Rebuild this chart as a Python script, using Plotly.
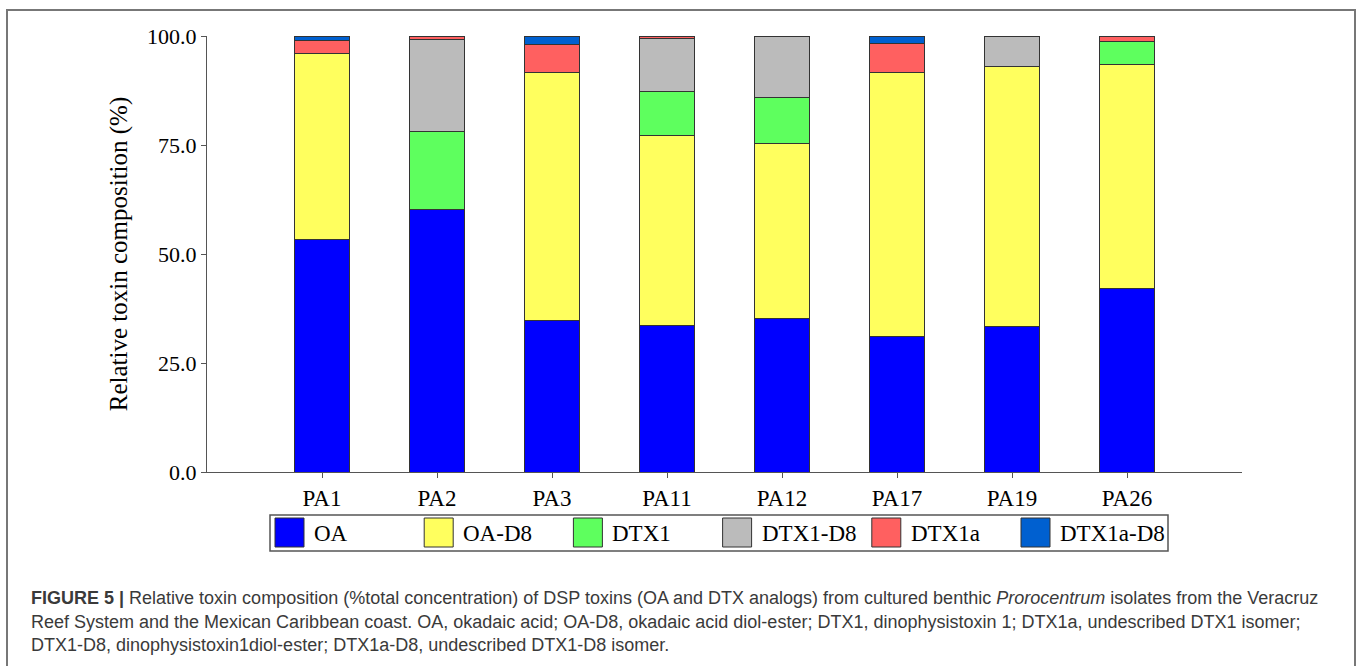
import plotly.graph_objects as go

categories = ["PA1", "PA2", "PA3", "PA11", "PA12", "PA17", "PA19", "PA26"]
series_names = ["OA", "OA-D8", "DTX1", "DTX1-D8", "DTX1a", "DTX1a-D8"]
oa = [53.3, 60.3, 34.7, 33.5, 35.1, 31.1, 33.3, 42.1]
oa_d8 = [42.6, 0.0, 57.0, 43.7, 40.3, 60.5, 59.8, 51.3]
dtx1 = [0.0, 17.8, 0.0, 10.1, 10.6, 0.0, 0.0, 5.3]
dtx1_d8 = [0.0, 21.0, 0.0, 12.2, 14.0, 0.0, 6.9, 0.0]
dtx1a = [3.0, 0.9, 6.3, 0.5, 0.0, 6.7, 0.0, 1.3]
dtx1a_d8 = [1.1, 0.0, 2.0, 0.0, 0.0, 1.7, 0.0, 0.0]
series_values = [oa, oa_d8, dtx1, dtx1_d8, dtx1a, dtx1a_d8]
colors = ["#0000FF", "#FFFF5E", "#5EFF5E", "#BBBBBB", "#FF6060", "#0060D0"]
y_ticks = [0, 25, 50, 75, 100]

W, H = 1361, 666
L, R = 207, 1242
T, B = 36, 472


def px(x):
    return (x - L) / (R - L)


def py(y):
    return (B - y) / (B - T)


fig = go.Figure()
for name, vals, col in zip(series_names, series_values, colors):
    fig.add_trace(go.Bar(
        x=categories, y=vals, name=name,
        marker=dict(color=col, line=dict(color="#333333", width=1)),
        width=0.48, showlegend=False,
    ))

serif = "Liberation Serif, Times New Roman, serif"
sans = "Liberation Sans, Arial, sans-serif"

fig.update_layout(
    width=W, height=H,
    margin=dict(l=L, r=W - R, t=T, b=H - B, pad=0),
    barmode="stack",
    paper_bgcolor="white", plot_bgcolor="white",
    font=dict(family=serif, color="black"),
    xaxis=dict(
        range=[-1, len(categories)], showline=True, linecolor="#555555", linewidth=1,
        ticks="outside", ticklen=5, tickcolor="#555555",
        tickfont=dict(family=serif, size=23, color="black"),
        showgrid=False, zeroline=False, fixedrange=True,
    ),
    yaxis=dict(
        range=[0, 100], tickvals=y_ticks, tickformat=".1f",
        showline=True, linecolor="#555555", linewidth=1,
        ticks="outside", ticklen=5, tickcolor="#555555",
        tickfont=dict(family=serif, size=22, color="black"),
        title=dict(text="Relative toxin composition (%)", font=dict(family=serif, size=25, color="black"), standoff=12),
        showgrid=False, zeroline=False,
    ),
)

shapes = []
annotations = []
# outer frame
shapes.append(dict(type="rect", xref="paper", yref="paper",
                   x0=px(7), x1=px(1355), y0=py(10), y1=py(700),
                   line=dict(color="#777777", width=2), fillcolor="rgba(0,0,0,0)", layer="below"))
# legend box
shapes.append(dict(type="rect", xref="paper", yref="paper",
                   x0=px(270), x1=px(1168), y0=py(515), y1=py(551),
                   line=dict(color="#555555", width=1.5), fillcolor="white"))
for i, (name, col) in enumerate(zip(series_names, colors)):
    sx = 275 + i * 149.2
    shapes.append(dict(type="rect", xref="paper", yref="paper",
                       x0=px(sx), x1=px(sx + 29), y0=py(518), y1=py(547),
                       line=dict(color="#333333", width=1), fillcolor=col))
    annotations.append(dict(xref="paper", yref="paper", x=px(sx + 37), y=py(533),
                            xanchor="left", yanchor="middle", showarrow=False,
                            text=name, font=dict(family=serif, size=23, color="black")))

caption = [
    "<b>FIGURE 5 |</b> Relative toxin composition (%total concentration) of DSP toxins (OA and DTX analogs) from cultured benthic <i>Prorocentrum</i> isolates from the Veracruz",
    "Reef System and the Mexican Caribbean coast. OA, okadaic acid; OA-D8, okadaic acid diol-ester; DTX1, dinophysistoxin 1; DTX1a, undescribed DTX1 isomer;",
    "DTX1-D8, dinophysistoxin1diol-ester; DTX1a-D8, undescribed DTX1-D8 isomer.",
]
for j, line in enumerate(caption):
    annotations.append(dict(xref="paper", yref="paper", x=px(29), y=py(598 + 23.5 * j),
                            xanchor="left", yanchor="middle", showarrow=False,
                            text=line, font=dict(family=sans, size=18, color="#3a3a3a")))

fig.update_layout(shapes=shapes, annotations=annotations)
fig.write_html(
    "out.html",
    config={"displayModeBar": False},
    post_script="document.body.style.margin='0';document.body.style.overflow='hidden';",
)
